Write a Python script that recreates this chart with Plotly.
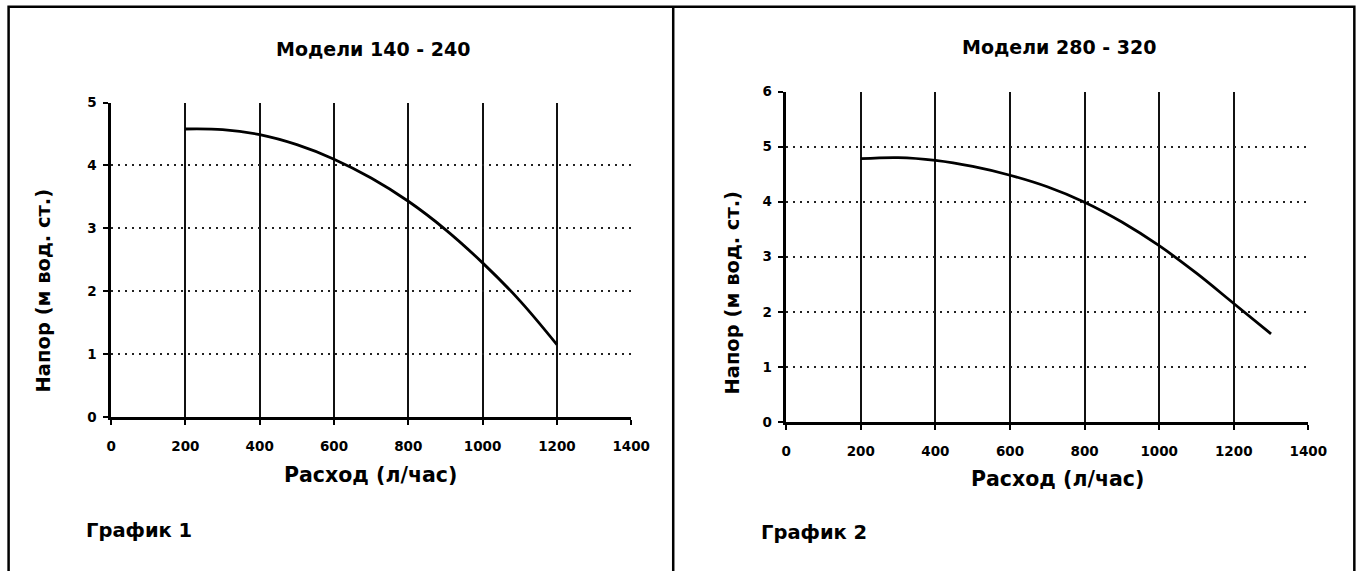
import plotly.graph_objects as go

# Data
flow_1 = [200, 300, 400, 500, 600, 700, 800, 900, 1000, 1100, 1200]
head_1 = [4.58, 4.57, 4.49, 4.33, 4.10, 3.80, 3.43, 2.98, 2.45, 1.85, 1.15]

flow_2 = [200, 300, 400, 500, 600, 700, 800, 900, 1000, 1100, 1200, 1300]
head_2 = [4.78, 4.80, 4.75, 4.64, 4.48, 4.27, 3.99, 3.63, 3.20, 2.70, 2.15, 1.60]

titles = ["Модели 140 - 240", "Модели 280 - 320"]
captions = ["График 1", "График 2"]
x_title = "Расход (л/час)"
y_title = "Напор (м вод. ст.)"

# the photo of the page comes out slightly shrunk and shifted,
# so positions (given in picture pixels) are mapped back to page pixels
AX, BX, AY, BY = 0.9825, 3.9, 0.969, 8.8
W, H = 1385, 592
FONT = "DejaVu Sans"


def px(t):
    return (t - BX) / AX / W


def py(t):
    return 1 - (t - BY) / AY / H


fig = go.Figure()
fig.add_trace(go.Scatter(x=flow_1, y=head_1, mode="lines", line_shape="spline",
                         line=dict(color="black", width=2.8), xaxis="x", yaxis="y",
                         showlegend=False))
fig.add_trace(go.Scatter(x=flow_2, y=head_2, mode="lines", line_shape="spline",
                         line=dict(color="black", width=2.8), xaxis="x2", yaxis="y2",
                         showlegend=False))

tickfont = dict(family=FONT, size=13.5, color="black", weight="bold")

xstyle = dict(range=[0, 1400], dtick=200, tick0=0, showgrid=True, gridcolor="#111",
              gridwidth=1.6, showline=True, linecolor="black", linewidth=2.5,
              ticks="outside", ticklen=5, tickwidth=2, tickcolor="black",
              zeroline=False, tickfont=tickfont, ticklabelstandoff=10, fixedrange=True)
ystyle = dict(dtick=1, tick0=0, showgrid=True, gridcolor="#222", gridwidth=2,
              griddash="2px,5px", showline=True, linecolor="black", linewidth=2.5,
              ticks="outside", ticklen=5, tickwidth=2, tickcolor="black",
              zeroline=False, tickfont=tickfont, ticklabelstandoff=4, fixedrange=True)

fig.update_layout(
    width=W, height=H, margin=dict(l=0, r=0, t=0, b=0),
    paper_bgcolor="white", plot_bgcolor="white",
    xaxis=dict(xstyle, domain=[px(110), px(630)], anchor="y"),
    yaxis=dict(ystyle, range=[0, 5], domain=[py(416), py(103)], anchor="x"),
    xaxis2=dict(xstyle, domain=[px(785), px(1307)], anchor="y2"),
    yaxis2=dict(ystyle, range=[0, 6], domain=[py(421), py(92)], anchor="x2"),
)

big = dict(family=FONT, size=19, color="black", weight="bold")
ann = []
for cx, cy, t in [(372, 50, titles[0]), (1058, 48, titles[1])]:
    ann.append(dict(x=px(cx), y=py(cy), text=t, font=big))
for cx, cy in [(369, 474), (1056, 478)]:
    ann.append(dict(x=px(cx), y=py(cy), text=x_title, font=dict(big, size=20.5)))
for cx, cy in [(42, 290), (731, 292)]:
    ann.append(dict(x=px(cx), y=py(cy), text=y_title, textangle=-90,
                    font=dict(big, size=19.5)))
for lx, cy, t in [(83, 529, captions[0]), (758, 531, captions[1])]:
    ann.append(dict(x=px(lx), y=py(cy), text=t, font=dict(big, size=19.5),
                    xanchor="left"))
for a in ann:
    a.setdefault("xanchor", "center")
    a.update(xref="paper", yref="paper", yanchor="middle", showarrow=False)
fig.update_layout(annotations=ann)

# table frame around the two charts
border = dict(color="black", width=2.5)
fig.update_layout(shapes=[
    dict(type="rect", xref="paper", yref="paper", x0=px(7.5), x1=px(1353),
         y0=py(620), y1=py(7.5), line=border),
    dict(type="line", xref="paper", yref="paper", x0=px(672), x1=px(672),
         y0=py(620), y1=py(7.5), line=border),
])

fig.write_html("out.html", config={"displayModeBar": False},
               post_script="document.body.style.margin='0';"
                           "document.body.style.overflow='hidden';")
